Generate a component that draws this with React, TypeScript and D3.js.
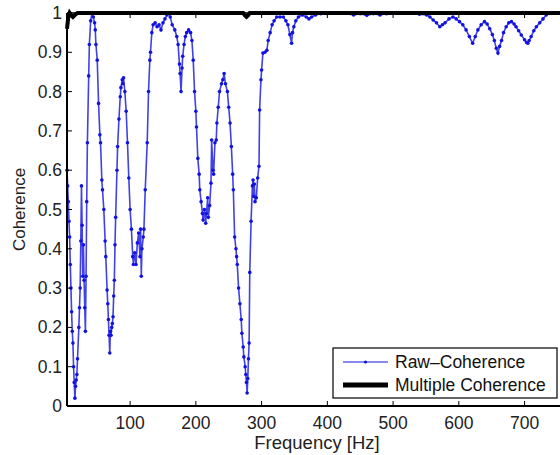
import * as d3 from 'd3';
import React from 'react';

// raw coherence (Hz, coherence)
const rawFreq = [
  4, 5, 6, 7, 8, 9, 10, 11, 12, 13, 14, 15, 16, 17, 18, 19, 20, 22, 23, 24, 25, 26, 27, 28, 29, 30,
  31, 32, 33, 34, 35, 37, 38, 40, 42, 44, 46, 47, 48, 50, 52, 54, 55, 57, 58, 60, 62, 63, 65, 66,
  67, 68, 69, 70, 71, 72, 73, 74, 75, 76, 77, 78, 80, 81, 83, 85, 86, 88, 89, 90, 92, 94, 96, 98,
  100, 102, 104, 105, 107, 109, 111, 113, 115, 116, 117, 118, 120, 121, 123, 126, 128, 130, 131,
  133, 135, 138, 141, 144, 147, 150, 153, 156, 159, 161, 164, 168, 171, 173, 175, 176, 177.5, 179,
  180, 182, 184, 186, 189, 192, 194, 196, 198, 200, 201, 203, 205, 206, 208, 210, 211, 213, 215,
  216, 218, 219, 221, 223, 224, 226, 227, 229, 231, 232, 234, 236, 239, 241, 243, 245, 248, 250,
  252, 254, 256, 257, 259, 261, 262, 263, 265, 267, 269, 270, 272, 273, 275, 276, 277, 278, 279,
  280, 281, 282, 284, 286, 287, 288, 289, 290, 292, 294, 296, 297, 299, 300, 302, 305, 308, 310,
  313, 316, 319, 323, 328, 333, 337, 340, 343, 345.6, 347, 349, 352, 356, 362, 368, 372, 376, 382,
  390, 400, 420, 440, 450, 460, 470, 480, 490, 500, 510, 525, 540, 551, 556, 561, 566, 571, 575,
  579, 585, 591, 596, 601, 606, 611, 616, 621, 625, 629, 634, 639, 643, 647, 651, 654, 657, 659.5,
  662, 665, 668, 672, 676, 680, 684, 687, 691, 695, 700, 703, 705, 707, 710, 714, 718, 723, 728,
  733, 738, 750, 760,
];
const rawCoh = [
  0.6, 0.56, 0.52, 0.47, 0.43, 0.36, 0.3, 0.24, 0.19, 0.16, 0.1, 0.06, 0.02, 0.05, 0.066, 0.08,
  0.12, 0.2, 0.25, 0.3, 0.42, 0.56, 0.46, 0.33, 0.41, 0.32, 0.25, 0.19, 0.33, 0.52, 0.67, 0.84,
  0.92, 0.98, 1.0, 0.99, 0.975, 0.957, 0.92, 0.88, 0.77, 0.69, 0.67, 0.575, 0.55, 0.5, 0.42, 0.38,
  0.295, 0.26, 0.22, 0.18, 0.135, 0.19, 0.18, 0.2, 0.21, 0.227, 0.28, 0.32, 0.41, 0.48, 0.6, 0.66,
  0.73, 0.787, 0.81, 0.83, 0.82, 0.835, 0.8, 0.75, 0.67, 0.58, 0.5, 0.45, 0.38, 0.36, 0.39, 0.36,
  0.415, 0.44, 0.38, 0.45, 0.33, 0.4, 0.43, 0.45, 0.55, 0.67, 0.8, 0.88, 0.9, 0.95, 0.97, 0.975,
  0.965, 0.97, 0.957, 0.975, 0.985, 0.995, 1.0, 0.99, 0.97, 0.957, 0.94, 0.92, 0.87, 0.846, 0.8,
  0.86, 0.89, 0.92, 0.94, 0.95, 0.957, 0.95, 0.93, 0.88, 0.8, 0.75, 0.71, 0.63, 0.59, 0.55, 0.52,
  0.49, 0.473, 0.5, 0.465, 0.49, 0.53, 0.48, 0.51, 0.567, 0.677, 0.6, 0.59, 0.67, 0.677, 0.72,
  0.76, 0.8, 0.82, 0.83, 0.846, 0.82, 0.8, 0.76, 0.72, 0.66, 0.59, 0.55, 0.43, 0.4, 0.38, 0.36,
  0.3, 0.26, 0.22, 0.185, 0.15, 0.125, 0.1, 0.08, 0.06, 0.033, 0.07, 0.12, 0.16, 0.34, 0.47, 0.56,
  0.575, 0.533, 0.565, 0.52, 0.53, 0.58, 0.61, 0.753, 0.83, 0.855, 0.898, 0.9, 0.905, 0.93, 0.95,
  0.97, 0.98, 0.99, 0.99, 0.99, 0.98, 0.97, 0.945, 0.923, 0.95, 0.965, 0.98, 0.99, 0.995, 0.99,
  0.985, 0.99, 0.995, 0.998, 1.0, 1.0, 0.995, 0.998, 0.994, 0.998, 0.995, 0.998, 1.0, 1.0, 1.0,
  0.997, 0.995, 0.99, 0.982, 0.975, 0.965, 0.97, 0.975, 0.985, 0.99, 0.985, 0.978, 0.97, 0.957,
  0.94, 0.923, 0.94, 0.957, 0.97, 0.978, 0.972, 0.96, 0.945, 0.93, 0.91, 0.898, 0.915, 0.93, 0.95,
  0.965, 0.975, 0.978, 0.972, 0.965, 0.955, 0.944, 0.932, 0.925, 0.923, 0.93, 0.94, 0.955, 0.965,
  0.975, 0.985, 0.995, 1.0, 1.0, 1.0,
];

// multiple coherence - basically 1 everywhere
const multFreq = [4, 5, 6, 8, 10, 13, 16, 20, 100, 200, 272, 275, 277, 279, 282, 400, 500, 600, 700, 760];
const multCoh = [0.96, 0.975, 0.99, 1.0, 0.995, 0.99, 0.995, 1.0, 1.0, 1.0, 1.0, 0.993, 0.99, 0.993, 1.0, 1.0, 1.0, 1.0, 1.0, 1.0];

const xTicks = [100, 200, 300, 400, 500, 600, 700];
const yTicks = [0, 0.1, 0.2, 0.3, 0.4, 0.5, 0.6, 0.7, 0.8, 0.9, 1];
const legendLabels = ['Raw\u2013Coherence', 'Multiple Coherence'];

const width = 560;
const height = 455;
const left = 67;
const right = 566;
const top = 13;
const bottom = 406;
const font = "'Liberation Sans', Arial, sans-serif";
const blue = '#1212e0';

const App = () => {
  const x = d3.scaleLinear().domain([4, 763]).range([left, right]);
  const y = d3.scaleLinear().domain([0, 1]).range([bottom, top]);

  const raw = rawFreq.map((f, i) => ({ f, v: rawCoh[i] }));
  const mult = multFreq.map((f, i) => ({ f, v: multCoh[i] }));

  const line = d3
    .line<{ f: number; v: number }>()
    .x((d) => x(d.f))
    .y((d) => y(d.v));

  const fmt = (t: number) => (t === 0 || t === 1 ? String(t) : t.toFixed(1));

  return (
    <svg
      width={width}
      height={height}
      style={{ position: 'absolute', left: 0, top: 0, background: '#fff' }}
      fontFamily={font}
    >
      <path d={line(raw) ?? ''} fill="none" stroke={blue} strokeWidth={1.6} strokeOpacity={0.8} />
      <g fill={blue}>
        {raw.map((d, i) => (
          <circle key={i} cx={x(d.f)} cy={y(d.v)} r={1.8} />
        ))}
      </g>
      <path d={line(mult) ?? ''} fill="none" stroke="#000" strokeWidth={4} />

      {/* box + ticks (inward, matlab style) */}
      <g stroke="#000" strokeWidth={1.5} fill="none">
        <line x1={left} x2={right} y1={bottom} y2={bottom} strokeWidth={2} />
        <line x1={left} x2={right} y1={top} y2={top} />
        <line x1={left} x2={left} y1={top} y2={bottom} strokeWidth={2} />
        <line x1={right} x2={right} y1={top} y2={bottom} />
        {xTicks.map((t) => (
          <g key={t}>
            <line x1={x(t)} x2={x(t)} y1={bottom} y2={bottom - 5} strokeWidth={1} />
            <line x1={x(t)} x2={x(t)} y1={top} y2={top + 5} strokeWidth={1} />
          </g>
        ))}
        {yTicks.map((t) => (
          <line key={t} x1={left} x2={left + 5} y1={y(t)} y2={y(t)} strokeWidth={1} />
        ))}
      </g>

      <g fontSize={17.5} fill="#222">
        {xTicks.map((t) => (
          <text key={t} x={x(t)} y={429} textAnchor="middle">
            {t}
          </text>
        ))}
        {yTicks.map((t) => (
          <text key={t} x={62} y={y(t) + 6} textAnchor="end">
            {fmt(t)}
          </text>
        ))}
      </g>

      <text x={317} y={449} textAnchor="middle" fontSize={18.5} fill="#222">
        Frequency [Hz]
      </text>
      <text transform={`translate(25,${(top + bottom) / 2}) rotate(-90)`} textAnchor="middle" fontSize={17} fill="#222">
        Coherence
      </text>

      {/* legend */}
      <g>
        <rect x={333} y={348} width={224} height={50} fill="#fff" stroke="#000" strokeWidth={1.2} />
        <line x1={343} x2={388} y1={362} y2={362} stroke={blue} strokeWidth={1} />
        <circle cx={365.5} cy={362} r={1.6} fill={blue} />
        <line x1={343} x2={388} y1={385} y2={385} stroke="#000" strokeWidth={5} />
        {legendLabels.map((s, i) => (
          <text key={s} x={395} y={368 + i * 23} fontSize={17.5} fill="#111">
            {s}
          </text>
        ))}
      </g>
    </svg>
  );
};

export default App;
